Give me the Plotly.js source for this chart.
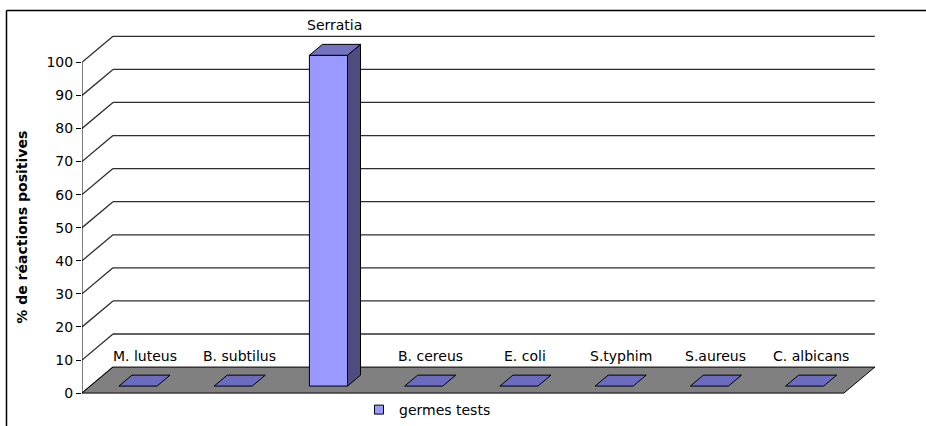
<!DOCTYPE html>
<html>
<head>
<meta charset="utf-8">
<script src="https://cdn.plot.ly/plotly-3.0.1.min.js"></script>
<style>html,body{margin:0;padding:0;background:#fff;overflow:hidden;}#chart{width:926px;height:426px;}</style>
</head>
<body>
<div id="chart"></div>
<script>
// ---- data ----
const categories = ["M. luteus", "B. subtilus", "Serratia", "B. cereus", "E. coli", "S.typhim", "S.aureus", "C. albicans"];
const values = [0, 0, 100, 0, 0, 0, 0, 0];
const yTicks = [0, 10, 20, 30, 40, 50, 60, 70, 80, 90, 100];
const seriesName = "germes tests";
const yTitle = "% de réactions positives";

// ---- 3D projection settings (oblique) ----
const DX = 0.3255;   // depth offset in category units
const DY = 7.86;     // depth offset in value units
const Z0 = 0.27, Z1 = 0.69; // bar depth span (fraction of floor depth)
const HALF = 0.2;    // half bar width in category units
const N = categories.length;
const P = (x, y, z) => [x + z * DX, y + z * DY];

const FONT = "DejaVu Sans";
const traces = [];

// back wall gridlines + left wall diagonals
const gx = [], gy = [];
yTicks.forEach(v => {
  if (v > 0) {
    const a = P(0, v, 1), b = P(N, v, 1);
    gx.push(a[0], b[0], null); gy.push(a[1], b[1], null);
  }
  const c = P(0, v, 0), d = P(0, v, 1);
  gx.push(c[0], d[0], null); gy.push(c[1], d[1], null);
});
traces.push({x: gx, y: gy, mode: "lines", line: {color: "#2e2e2e", width: 1.3}, hoverinfo: "skip", showlegend: false});

// floor
const f = [P(0,0,0), P(N,0,0), P(N,0,1), P(0,0,1), P(0,0,0)];
traces.push({x: f.map(p=>p[0]), y: f.map(p=>p[1]), mode: "lines", fill: "toself", fillcolor: "#808080",
  line: {color: "#000", width: 1}, hoverinfo: "skip", showlegend: false});

// front value axis line
traces.push({x: [0, 0], y: [yTicks[0], yTicks[yTicks.length-1]], mode: "lines", line: {color: "#000", width: 1}, hoverinfo: "skip", showlegend: false});

function poly(pts, color) {
  const q = pts.concat([pts[0]]);
  traces.push({x: q.map(p=>p[0]), y: q.map(p=>p[1]), mode: "lines", fill: "toself", fillcolor: color,
    line: {color: "#000", width: 1}, hoverinfo: "skip", showlegend: false});
}

const annotations = [];
categories.forEach((cat, i) => {
  const v = values[i];
  const x0 = i + 0.5 - HALF, x1 = i + 0.5 + HALF;
  if (v > 0) {
    poly([P(x0,0,Z0), P(x1,0,Z0), P(x1,v,Z0), P(x0,v,Z0)], "#9999ff");       // front
    poly([P(x1,0,Z0), P(x1,0,Z1), P(x1,v,Z1), P(x1,v,Z0)], "#4d4d80");       // side
  }
  poly([P(x0,v,Z0), P(x1,v,Z0), P(x1,v,Z1), P(x0,v,Z1)], v > 0 ? "#7373c0" : "#6b6bbf"); // top
  const c = P(i + 0.5, v, (Z0 + Z1) / 2);
  annotations.push({x: c[0], y: v + Z1 * DY, xref: "x", yref: "y", text: cat, showarrow: false,
    xanchor: "center", yanchor: "bottom", yshift: 9, font: {family: FONT, size: 14, color: "#000"}});
});

// legend entry
traces.push({x: [null], y: [null], mode: "markers", name: seriesName, showlegend: true,
  marker: {symbol: "square", size: 9, color: "#9999ff", line: {color: "#000", width: 1}}});

const M = {l: 82, r: 25, t: 16, b: 0};
const W = 926 - M.l - M.r, H = 426 - M.t - M.b;
const px = v => (v - M.l) / W;
const py = v => (426 - M.b - v) / H;

annotations.push({xref: "paper", yref: "y", x: px(22), y: (yTicks[0] + yTicks[yTicks.length-1]) / 2,
  xanchor: "center", yanchor: "middle",
  text: "<b>" + yTitle + "</b>", textangle: -90, showarrow: false,
  font: {family: FONT, size: 14, color: "#000"}});

const layout = {
  width: 926, height: 426, margin: M,
  paper_bgcolor: "#fff", plot_bgcolor: "rgba(0,0,0,0)",
  font: {family: FONT, size: 14, color: "#000"},
  showlegend: true,
  legend: {orientation: "h", x: px(359), xanchor: "left", y: 0, yanchor: "bottom",
    bgcolor: "rgba(0,0,0,0)", font: {family: FONT, size: 14, color: "#000"}},
  xaxis: {range: [0, 8.6], showgrid: false, zeroline: false, showline: false, showticklabels: false, ticks: ""},
  yaxis: {range: [-9.95, 114], tickmode: "array", tickvals: yTicks, ticktext: yTicks.map(String),
    ticks: "outside", ticklen: 5, tickcolor: "#000", showgrid: false, zeroline: false, showline: false,
    tickfont: {family: FONT, size: 14, color: "#000"}},
  annotations: annotations,
  shapes: [
    {type: "line", xref: "paper", yref: "paper", x0: px(6.5), x1: px(6.5), y0: py(470), y1: py(10.5),
      line: {color: "#000", width: 1.5}, layer: "above"},
    {type: "line", xref: "paper", yref: "paper", x0: px(6.5), x1: px(980), y0: py(10.5), y1: py(10.5),
      line: {color: "#000", width: 1.5}, layer: "above"}
  ]
};

Plotly.newPlot("chart", traces, layout, {staticPlot: true});
</script>
</body>
</html>
